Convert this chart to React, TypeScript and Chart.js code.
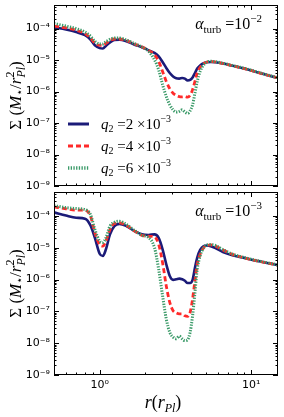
import React, { useEffect, useRef } from "react";
import { Chart, registerables } from "chart.js";
Chart.register(...registerables);

// r in units of r_Pl
const radiusRpl = [0.5, 0.6, 0.7, 0.8, 0.87, 0.93, 1.0, 1.05, 1.1, 1.17, 1.25, 1.35, 1.5, 1.7, 1.9, 2.1, 2.3, 2.45, 2.6, 2.75, 2.9, 3.05, 3.2, 3.35, 3.5, 3.65, 3.8, 3.95, 4.1, 4.25, 4.4, 4.6, 4.85, 5.1, 5.4, 5.8, 6.5, 7.5, 9, 11, 13, 15];

// alpha_turb = 1e-2 panel
const topQ2 = [1.10e-4, 9.33e-5, 7.76e-5, 6.17e-5, 4.47e-5, 2.95e-5, 2.40e-5, 2.34e-5, 2.82e-5, 3.63e-5, 4.37e-5, 4.47e-5, 3.98e-5, 3.09e-5, 2.57e-5, 2.04e-5, 1.70e-5, 1.32e-5, 8.71e-6, 5.62e-6, 3.89e-6, 3.02e-6, 2.63e-6, 2.57e-6, 2.69e-6, 2.57e-6, 2.24e-6, 2.34e-6, 2.82e-6, 3.89e-6, 5.37e-6, 6.76e-6, 7.94e-6, 8.51e-6, 8.71e-6, 8.51e-6, 7.76e-6, 6.61e-6, 5.37e-6, 4.07e-6, 3.24e-6, 2.69e-6];
const topQ4 = [1.20e-4, 1.05e-4, 8.91e-5, 6.92e-5, 5.01e-5, 3.47e-5, 2.95e-5, 2.95e-5, 3.39e-5, 4.17e-5, 4.68e-5, 4.68e-5, 4.17e-5, 3.24e-5, 2.63e-5, 2.04e-5, 1.48e-5, 9.12e-6, 4.37e-6, 2.09e-6, 1.23e-6, 8.91e-7, 7.59e-7, 6.92e-7, 6.76e-7, 6.92e-7, 6.61e-7, 7.59e-7, 1.15e-6, 2.09e-6, 3.89e-6, 5.89e-6, 7.76e-6, 8.71e-6, 9.12e-6, 8.71e-6, 7.76e-6, 6.61e-6, 5.37e-6, 4.07e-6, 3.24e-6, 2.69e-6];
const topQ6 = [1.45e-4, 1.20e-4, 1.00e-4, 7.76e-5, 5.75e-5, 3.98e-5, 3.24e-5, 3.24e-5, 3.80e-5, 4.57e-5, 5.01e-5, 5.01e-5, 4.37e-5, 3.31e-5, 2.63e-5, 1.91e-5, 1.02e-5, 4.90e-6, 1.66e-6, 6.92e-7, 3.80e-7, 2.63e-7, 2.24e-7, 2.34e-7, 2.63e-7, 2.24e-7, 2.04e-7, 2.45e-7, 3.80e-7, 8.91e-7, 2.09e-6, 4.37e-6, 7.08e-6, 8.71e-6, 9.12e-6, 8.91e-6, 7.94e-6, 6.76e-6, 5.50e-6, 4.17e-6, 3.31e-6, 2.75e-6];

// alpha_turb = 1e-3 panel
const bottomQ2 = [1.29e-4, 1.02e-4, 8.71e-5, 8.13e-5, 5.01e-5, 2.04e-5, 6.46e-6, 5.50e-6, 8.91e-6, 2.63e-5, 4.79e-5, 5.62e-5, 4.79e-5, 3.31e-5, 2.63e-5, 2.51e-5, 2.63e-5, 2.04e-5, 8.91e-6, 3.02e-6, 1.29e-6, 9.77e-7, 1.02e-6, 1.07e-6, 1.02e-6, 9.12e-7, 7.76e-7, 7.76e-7, 9.77e-7, 2.34e-6, 4.90e-6, 8.51e-6, 1.12e-5, 1.17e-5, 1.12e-5, 9.77e-6, 7.24e-6, 5.75e-6, 4.79e-6, 3.80e-6, 3.24e-6, 2.82e-6];
const bottomQ4 = [1.91e-4, 1.66e-4, 1.51e-4, 1.51e-4, 9.77e-5, 2.95e-5, 1.26e-5, 1.12e-5, 1.62e-5, 3.72e-5, 5.75e-5, 6.03e-5, 5.01e-5, 3.31e-5, 2.45e-5, 2.29e-5, 2.19e-5, 1.26e-5, 3.39e-6, 6.31e-7, 1.91e-7, 1.05e-7, 8.91e-8, 8.32e-8, 8.32e-8, 7.24e-8, 6.92e-8, 9.33e-8, 2.45e-7, 9.12e-7, 3.02e-6, 6.17e-6, 1.00e-5, 1.17e-5, 1.23e-5, 1.12e-5, 8.51e-6, 6.17e-6, 4.79e-6, 3.80e-6, 3.24e-6, 2.82e-6];
const bottomQ6 = [2.09e-4, 1.82e-4, 1.70e-4, 1.58e-4, 1.10e-4, 3.72e-5, 1.62e-5, 1.45e-5, 2.04e-5, 4.79e-5, 6.31e-5, 6.76e-5, 5.37e-5, 3.47e-5, 2.45e-5, 2.09e-5, 1.00e-5, 2.09e-6, 3.09e-7, 5.75e-8, 2.19e-8, 1.55e-8, 1.38e-8, 1.66e-8, 1.38e-8, 1.20e-8, 1.29e-8, 2.19e-8, 7.24e-8, 3.89e-7, 2.09e-6, 5.50e-6, 1.00e-5, 1.23e-5, 1.26e-5, 1.17e-5, 8.71e-6, 6.31e-6, 4.90e-6, 3.89e-6, 3.31e-6, 2.88e-6];

const yTickValues = [1e-9, 1e-8, 1e-7, 1e-6, 1e-5, 1e-4];
const yTickLabels = ["10⁻⁹", "10⁻⁸", "10⁻⁷", "10⁻⁶", "10⁻⁵", "10⁻⁴"];
const xTickValues = [1, 10];
const xTickLabels = ["10⁰", "10¹"];
const q2Mantissas = ["2", "4", "6"];
const q2Exponent = "−3";
const alphaExponents = ["−2", "−3"];

const X_MIN = 0.5;
const X_MAX = 15;
const Y_MIN = 1e-9;
const Y_MAX = Math.pow(10, -3.25);

const SERIF = '"Liberation Serif", "DejaVu Serif", serif';
const SANS = '"DejaVu Sans", sans-serif';

const seriesStyles = [
  { color: "#1b1b78", width: 2.6, dash: [] as number[], order: 3 },
  { color: "#ff2a2a", width: 2.8, dash: [5, 3], order: 2 },
  { color: "#3a9a68", width: 3, dash: [1.3, 1.4], order: 1 },
];

type Part = { t: string; size: number; italic?: boolean; dy?: number; adv?: number; family?: string };

function partFont(p: Part) {
  return `${p.italic ? "italic " : ""}${p.size}px ${p.family || SERIF}`;
}

function drawParts(ctx: CanvasRenderingContext2D, parts: Part[], x: number, y: number, align: "left" | "center" | "right") {
  let total = 0;
  const adv = parts.map((p) => {
    ctx.font = partFont(p);
    const w = ctx.measureText(p.t).width;
    const a = p.adv !== undefined ? p.adv : w;
    total += a;
    return a;
  });
  let cx = align === "left" ? x : align === "center" ? x - total / 2 : x - total;
  ctx.textAlign = "left";
  ctx.textBaseline = "alphabetic";
  parts.forEach((p, i) => {
    ctx.font = partFont(p);
    ctx.fillText(p.t, cx, y + (p.dy || 0));
    cx += adv[i];
  });
}

function makeDecor(panel: number) {
  return {
    id: "decor" + panel,
    afterDraw(chart: any) {
      const ctx: CanvasRenderingContext2D = chart.ctx;
      const a = chart.chartArea;
      const xs = chart.scales.x;
      const ys = chart.scales.y;
      ctx.save();
      ctx.strokeStyle = "#000";
      ctx.fillStyle = "#000";
      ctx.lineWidth = 1;
      ctx.setLineDash([]);
      ctx.strokeRect(a.left + 0.5, a.top + 0.5, a.right - a.left - 1, a.bottom - a.top - 1);
      const seg = (x1: number, y1: number, x2: number, y2: number) => {
        ctx.beginPath();
        ctx.moveTo(x1, y1);
        ctx.lineTo(x2, y2);
        ctx.stroke();
      };
      for (let e = -1; e <= 1; e++) {
        for (let m = 1; m <= 9; m++) {
          const v = m * Math.pow(10, e);
          if (v < X_MIN || v > X_MAX) continue;
          const px = Math.round(xs.getPixelForValue(v)) + 0.5;
          const len = m === 1 ? 5 : 2.5;
          seg(px, a.top, px, a.top + len);
          seg(px, a.bottom, px, a.bottom - len);
        }
      }
      for (let e = -9; e <= -4; e++) {
        for (let m = 1; m <= 9; m++) {
          const v = m * Math.pow(10, e);
          if (v < Y_MIN || v > Y_MAX) continue;
          const py = Math.round(ys.getPixelForValue(v)) + 0.5;
          const len = m === 1 ? 5 : 2.5;
          seg(a.left, py, a.left + len, py);
          seg(a.right, py, a.right - len, py);
        }
      }

      // y-axis title
      const cy = (a.top + a.bottom) / 2;
      const S = 17;
      ctx.save();
      ctx.translate(21, cy);
      ctx.rotate(-Math.PI / 2);
      drawParts(ctx, [
        { t: "Σ", size: S },
        { t: " (", size: S },
        { t: "M", size: S, italic: true },
        { t: "⋆", size: 11, family: SANS, dy: 2 },
        { t: "/", size: S },
        { t: "r", size: S, italic: true },
        { t: "2", size: 12, dy: -7, adv: 0 },
        { t: "Pl", size: 12, italic: true, dy: 4 },
        { t: ")", size: S },
      ], 0, 0, "center");
      ctx.restore();

      // alpha annotation
      drawParts(ctx, [
        { t: "α", size: 16, italic: true },
        { t: "turb", size: 11, dy: 4 },
        { t: " =", size: 16 },
        { t: "10", size: 16 },
        { t: alphaExponents[panel], size: 11, dy: -7 },
      ], a.right - 16, a.top + 24, "right");

      if (panel === 0) {
        // legend
        const ds = chart.data.datasets;
        for (let i = 0; i < 3; i++) {
          const ry = a.bottom - 62 + i * 22;
          const st = seriesStyles[i];
          ctx.save();
          ctx.strokeStyle = st.color;
          ctx.lineWidth = st.width + 0.4;
          ctx.setLineDash(st.dash);
          seg(a.left + 14, ry, a.left + 35, ry);
          ctx.restore();
          drawParts(ctx, [
            { t: "q", size: 15, italic: true },
            { t: "2", size: 10, dy: 3 },
            { t: " =", size: 15 },
            { t: q2Mantissas[i], size: 15 },
            { t: " ×", size: 15 },
            { t: "10", size: 15 },
            { t: q2Exponent, size: 10, dy: -7 },
          ], a.left + 47, ry + 5, "left");
          void ds;
        }
      } else {
        // x-axis title
        drawParts(ctx, [
          { t: "r", size: 18, italic: true },
          { t: "(", size: 18 },
          { t: "r", size: 18, italic: true },
          { t: "Pl", size: 12, italic: true, dy: 4 },
          { t: ")", size: 18 },
        ], 163, a.bottom + 33, "center");
      }
      ctx.restore();
    },
  };
}

function buildChart(canvas: HTMLCanvasElement, panel: number, series: number[][]) {
  const isBottom = panel === 1;
  return new Chart(canvas, {
    type: "line",
    data: {
      datasets: series.map((vals, i) => ({
        label: `q2 = ${q2Mantissas[i]}e-3`,
        data: radiusRpl.map((r, k) => ({ x: r, y: vals[k] })),
        borderColor: seriesStyles[i].color,
        borderWidth: seriesStyles[i].width,
        borderDash: seriesStyles[i].dash,
        borderCapStyle: "butt",
        pointRadius: 0,
        fill: false,
        cubicInterpolationMode: "monotone",
        order: seriesStyles[i].order,
      })),
    },
    options: {
      animation: false,
      responsive: false,
      devicePixelRatio: 1,
      events: [],
      layout: { padding: { left: 0, right: 6, top: isBottom ? 4 : 5, bottom: isBottom ? 0 : 14 } },
      plugins: { legend: { display: false }, tooltip: { enabled: false } },
      scales: {
        x: {
          type: "logarithmic",
          min: X_MIN,
          max: X_MAX,
          grid: { display: false, drawTicks: false },
          border: { display: false },
          afterBuildTicks: (s: any) => {
            s.ticks = xTickValues.map((v) => ({ value: v }));
          },
          afterFit: (s: any) => {
            s.height = isBottom ? 42 : 0;
            s.paddingLeft = 0;
            s.paddingRight = 0;
          },
          ticks: {
            display: isBottom,
            autoSkip: false,
            maxRotation: 0,
            padding: 4,
            color: "#000",
            font: { family: SANS, size: 11 },
            callback: (v: any) => {
              const idx = xTickValues.findIndex((t) => Math.abs(Math.log10(t) - Math.log10(v)) < 1e-6);
              return idx >= 0 ? xTickLabels[idx] : "";
            },
          },
        },
        y: {
          type: "logarithmic",
          min: Y_MIN,
          max: Y_MAX,
          grid: { display: false, drawTicks: false },
          border: { display: false },
          afterBuildTicks: (s: any) => {
            s.ticks = yTickValues.map((v) => ({ value: v }));
          },
          afterFit: (s: any) => {
            s.width = 54;
            s.paddingTop = 0;
            s.paddingBottom = 0;
          },
          ticks: {
            autoSkip: false,
            padding: 4,
            color: "#000",
            font: { family: SANS, size: 11 },
            callback: (v: any) => {
              const idx = yTickValues.findIndex((t) => Math.abs(Math.log10(t) - Math.log10(v)) < 1e-6);
              return idx >= 0 ? yTickLabels[idx] : "";
            },
          },
        },
      },
    } as any,
    plugins: [makeDecor(panel)],
  } as any);
}

export default function App() {
  const topRef = useRef<HTMLCanvasElement>(null);
  const bottomRef = useRef<HTMLCanvasElement>(null);
  useEffect(() => {
    const c1 = buildChart(topRef.current!, 0, [topQ2, topQ4, topQ6]);
    const c2 = buildChart(bottomRef.current!, 1, [bottomQ2, bottomQ4, bottomQ6]);
    return () => {
      c1.destroy();
      c2.destroy();
    };
  }, []);
  return (
    <div style={{ position: "fixed", left: 0, top: 0, width: 284, height: 417, background: "#fff" }}>
      <canvas ref={topRef} width={284} height={200} style={{ position: "absolute", left: 0, top: 0 }} />
      <canvas ref={bottomRef} width={284} height={229} style={{ position: "absolute", left: 0, top: 188 }} />
    </div>
  );
}
